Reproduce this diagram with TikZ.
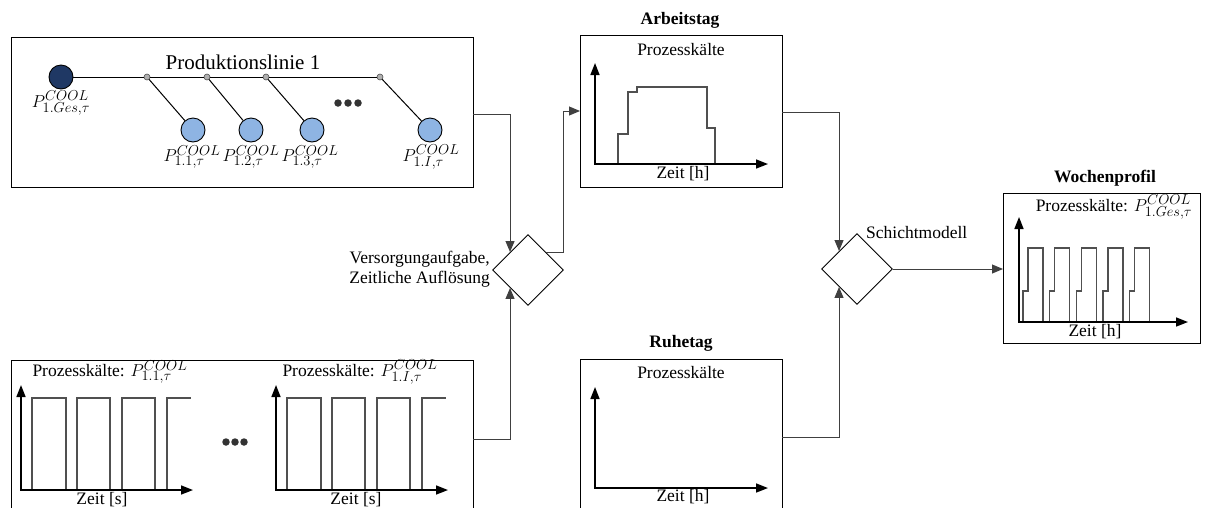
\documentclass[tikz,border=0pt]{standalone}
\usepackage{fontspec}
\setmainfont{Liberation Serif}
\DeclareMathSizes{17.5}{19}{14.5}{11}
\usetikzlibrary{arrows.meta,shapes.geometric,calc}
\definecolor{navy}{HTML}{1F3864}
\definecolor{lightblue}{HTML}{8EB4E3}
\definecolor{juncgray}{HTML}{B0B0B0}
\definecolor{siggray}{HTML}{505050}
\definecolor{conngray}{HTML}{404040}
\begin{document}
\begin{tikzpicture}[x=1pt,y=-1pt,
  txt/.style={font=\fontsize{17.5}{20}\selectfont, inner sep=0},
  ttl/.style={font=\fontsize{17.5}{20}\selectfont\bfseries, inner sep=0},
  panel/.style={draw=black, line width=1pt, fill=white, inner sep=0, outer sep=0},
  decide/.style={diamond, draw=black, line width=0.9pt, fill=white, inner sep=0,
                 minimum width=71pt, minimum height=71pt},
  axis/.style={line width=1.6pt, black, -{Triangle[length=12pt,width=9pt]}},
  signal/.style={draw=siggray, line width=1.3pt},
  conn/.style={draw=conngray, line width=1pt, -{Triangle[length=11pt,width=9pt]}},
  bigdot/.style={circle, draw=black, line width=0.9pt, minimum size=24pt, inner sep=0},
  junc/.style={circle, draw=black!70, fill=juncgray, line width=0.6pt, minimum size=6pt, inner sep=0},
  ellip/.style={circle, fill=black!80, minimum size=7.5pt, inner sep=0},
]
\useasboundingbox (0,0) rectangle (1205,507);

% ---------- panels ----------
\node[panel, minimum width=462pt, minimum height=150pt] (line1) at (242,112) {};
\node[panel, minimum width=462pt, minimum height=154pt] (cycles) at (242,437) {};
\node[panel, minimum width=202pt, minimum height=152pt] (work) at (681,111) {};
\node[panel, minimum width=202pt, minimum height=154pt] (rest) at (681,436) {};
\node[panel, minimum width=197pt, minimum height=150pt] (week) at (1101.5,268) {};

% ---------- decision diamonds ----------
\node[decide] (d1) at (528,270) {};
\node[decide] (d2) at (857,269) {};

% ---------- production line ----------
\node[txt, font=\fontsize{21}{24}\selectfont] (pl) at (243,62) {Produktionslinie 1};
\node[bigdot, fill=navy] (tot) at (61,77) {};
\node[junc] (j1) at (147,77) {};
\node[junc] (j2) at (207,77) {};
\node[junc] (j3) at (266,77) {};
\node[junc] (j4) at (380,77) {};
\node[bigdot, fill=lightblue] (c1) at (193,130) {};
\node[bigdot, fill=lightblue] (c2) at (251,130) {};
\node[bigdot, fill=lightblue] (c3) at (312,130) {};
\node[bigdot, fill=lightblue] (c4) at (430,130) {};
\draw[line width=1pt] (tot) -- (j1) -- (j2) -- (j3) -- (j4);
\foreach \j/\c in {j1/c1, j2/c2, j3/c3, j4/c4} \draw[line width=1pt] (\j) -- (\c);
\node[ellip] (e1) at (338,103) {};
\node[ellip] (e2) at (348,103) {};
\node[ellip] (e3) at (358,103) {};
\node[txt] (ltot) at (61,103) {$P^{COOL}_{1.Ges,\tau}$};
\node[txt] (lc1) at (192,157) {$P^{COOL}_{1.1,\tau}$};
\node[txt] (lc2) at (251,157) {$P^{COOL}_{1.2,\tau}$};
\node[txt] (lc3) at (310,157) {$P^{COOL}_{1.3,\tau}$};
\node[txt] (lc4) at (431,157) {$P^{COOL}_{1.I,\tau}$};

% ---------- machine cycles ----------
\node[txt] (pk1) at (110,372) {Prozesskälte: $P^{COOL}_{1.1,\tau}$};
\node[txt] (pk2) at (360,372) {Prozesskälte: $P^{COOL}_{1.I,\tau}$};
\foreach \x in {0,255} {
  \draw[signal] ({32+\x},490) -- ({32+\x},398) -- ({66+\x},398) -- ({66+\x},490)
                ({77+\x},490) -- ({77+\x},398) -- ({110+\x},398) -- ({110+\x},490)
                ({122+\x},490) -- ({122+\x},398) -- ({155+\x},398) -- ({155+\x},490)
                ({167+\x},490) -- ({167+\x},398) -- ({191+\x},398);
  \draw[axis] ({21+\x},490) -- ({21+\x},385);
  \draw[axis] ({20+\x},490) -- ({193+\x},490);
}
\node[txt] (zs1) at (102,500) {Zeit [s]};
\node[txt] (zs2) at (356,500) {Zeit [s]};
\node[ellip] (f1) at (226,442) {};
\node[ellip] (f2) at (235,442) {};
\node[ellip] (f3) at (244,442) {};

% ---------- working day ----------
\node[ttl] (tw) at (680,20) {Arbeitstag};
\node[txt] (pw) at (681,50) {Prozesskälte};
\draw[signal] (618,164) -- (618,134) -- (628,134) -- (628,92) -- (637,92) -- (637,87)
              -- (707,87) -- (707,128) -- (715,128) -- (715,164);
\draw[axis] (595,164) -- (595,63);
\draw[axis] (594,164) -- (768,164);
\node[txt] (zw) at (683,174) {Zeit [h]};

% ---------- rest day ----------
\node[ttl] (tr) at (681,343) {Ruhetag};
\node[txt] (pr) at (681,373) {Prozesskälte};
\draw[axis] (595,488) -- (595,387);
\draw[axis] (594,488) -- (768,488);
\node[txt] (zr) at (683,497) {Zeit [h]};

% ---------- weekly profile ----------
\node[ttl] (tk) at (1105,178) {Wochenprofil};
\node[txt] (pk) at (1114,207) {Prozesskälte: $P^{COOL}_{1.Ges,\tau}$};
\foreach \s in {0,26.7,53.4,80.1,106.8} {
  \draw[signal] ({1023+\s},322) -- ({1023+\s},291) -- ({1028+\s},291) -- ({1028+\s},248)
                -- ({1043+\s},248) -- ({1043+\s},322);
}
\draw[axis] (1019,322) -- (1019,217);
\draw[axis] (1018,322) -- (1188,322);
\node[txt] (zk) at (1095,332) {Zeit [h]};

% ---------- flow ----------
\draw[conn] ([yshift=-2pt]line1.east) -| (d1.north west);
\draw[conn] ([yshift=-2pt]cycles.east) -| (d1.south west);
\draw[conn] (d1.north east) -- ++(17.5,0) |- (work.west);
\draw[conn] ([yshift=-1pt]work.east) -| (d2.north west);
\draw[conn] ([yshift=-1pt]rest.east) -| (d2.south west);
\draw[conn] (d2.east) -- (d2.east -| week.west);

\node[txt, anchor=east, align=right] (lv) at (490,269) {Versorgungaufgabe,\\Zeitliche Auflösung};
\node[txt, anchor=west] (ls) at (866,233) {Schichtmodell};
\end{tikzpicture}
\end{document}
